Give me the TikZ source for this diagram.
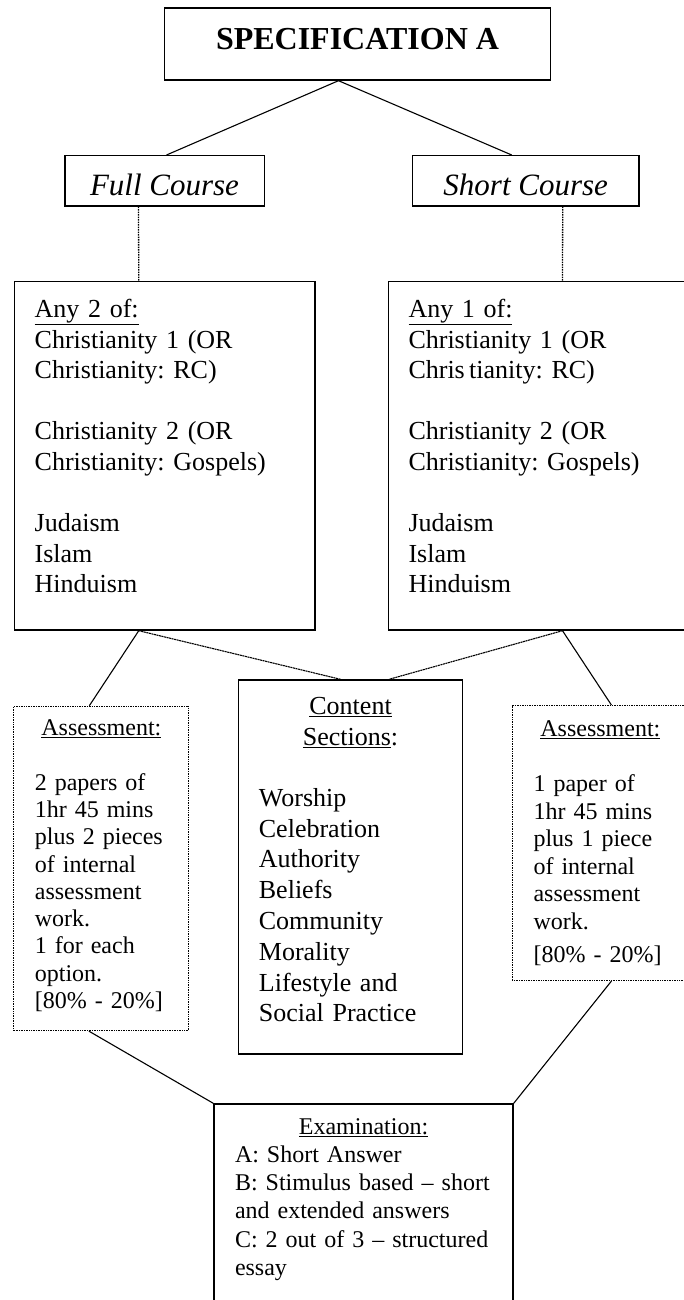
\documentclass[tikz,border=0pt]{standalone}
\usepackage{fontspec}
\setmainfont{Liberation Serif}
\frenchspacing
\newcommand\boxhead[1]{\makebox[\linewidth]{#1}}
\begin{document}
\begin{tikzpicture}[x=1pt,y=-1pt,
  box/.style={draw, line width=1.4pt, anchor=north west, inner ysep=0pt},
  dotbox/.style={draw, line width=1.1pt, dash pattern=on 1pt off 0.7pt, anchor=north west, inner ysep=0pt},
  link/.style={line width=1.1pt},
  dashlink/.style={line width=1.3pt, dash pattern=on 1.5pt off 1pt},
  fineline/.style={line width=1.1pt, dash pattern=on 2pt off 0.6pt}]
\useasboundingbox (0,0) rectangle (684,1300);
\clip (0,0) rectangle (684,1300);
\node[box, minimum width=385.6pt, text height=42pt, text depth=30pt, font=\fontsize{32}{36}\selectfont\bfseries] (spec) at (164,7.3) {SPECIFICATION A};
\node[box, minimum width=199.4pt, text height=40pt, text depth=10.3pt, font=\fontsize{31}{36}\selectfont\itshape] (fullc) at (64.1,155) {Full Course};
\node[box, minimum width=226.4pt, text height=40pt, text depth=10.3pt, font=\fontsize{31}{36}\selectfont\itshape] (shortc) at (411.8,155) {Short Course};
\node[box, inner xsep=20pt, text width=260.1pt, text height=35.7pt, text depth=312.6pt, align=left, font=\fontsize{26}{30.6}\selectfont] (fulllist) at (14,281) {\underline{Any 2 of:}\\ Christianity 1 (OR\\ Christianity: RC)\\[30.6pt] Christianity 2 (OR\\ Christianity: Gospels)\\[30.6pt] Judaism\\ Islam\\ Hinduism};
\node[box, inner xsep=20pt, text width=260pt, text height=35.7pt, text depth=312.6pt, align=left, font=\fontsize{26}{30.6}\selectfont] (shortlist) at (387.8,281) {\underline{Any 1 of:}\\ Christianity 1 (OR\\ Chris\,tianity: RC)\\[30.6pt] Christianity 2 (OR\\ Christianity: Gospels)\\[30.6pt] Judaism\\ Islam\\ Hinduism};
\node[box, inner xsep=20.5pt, text width=183.3pt, text height=34.7pt, text depth=339.3pt, align=left, font=\fontsize{26}{30.8}\selectfont] (content) at (237.7,679.3) {\boxhead{\underline{Content}}\\ \boxhead{\underline{Sections}:}\\[30pt] Worship\\ Celebration\\ Authority\\ Beliefs\\ Community\\ Morality\\ Lifestyle and\\ Social Practice};
\node[dotbox, inner xsep=21pt, text width=133pt, text height=29.3pt, text depth=295pt, align=left, font=\fontsize{24}{27.3}\selectfont] (lassess) at (13.3,705.7) {\boxhead{\underline{Assessment:}}\\[27.3pt] 2 papers of\\ 1hr 45 mins\\ plus 2 pieces\\ of internal\\ assessment\\ work.\\ 1 for each\\ option.\\{}[80\% - 20\%]};
\node[dotbox, inner xsep=21.3pt, text width=133.7pt, text height=31pt, text depth=244pt, align=left, font=\fontsize{24}{27.5}\selectfont] (rassess) at (511.7,705) {\boxhead{\underline{Assessment:}}\\[27.5pt] 1 paper of\\ 1hr 45 mins\\ plus 1 piece\\ of internal\\ assessment\\ work.\\[6pt]{}[80\% - 20\%]};
\node[box, inner xsep=21pt, text width=257pt, text height=30pt, text depth=210pt, align=left, font=\fontsize{24}{28.3}\selectfont] (exam) at (213.3,1103.3) {\boxhead{\underline{Examination:}}\\ A: Short Answer\\ B: Stimulus based \textendash{} short\\ and extended answers\\ C: 2 out of 3 \textendash{} structured\\ essay};
\draw[link] ([xshift=-19pt]spec.south) -- ([xshift=2pt]fullc.north);
\draw[link] ([xshift=-19pt]spec.south) -- ([xshift=-14pt]shortc.north);
\draw[dashlink] ([xshift=-26pt]fullc.south) -- ([xshift=-26pt]fulllist.north);
\draw[dashlink] ([xshift=37pt]shortc.south) -- ([xshift=24pt]shortlist.north);
\draw[link] ([xshift=-26pt]fulllist.south) -- ([xshift=-12pt]lassess.north);
\draw[fineline] ([xshift=-26pt]fulllist.south) -- ([xshift=-10pt]content.north);
\draw[fineline] ([xshift=24pt]shortlist.south) -- ([xshift=38.5pt]content.north);
\draw[link] ([xshift=24pt]shortlist.south) -- ([xshift=11pt]rassess.north);
\draw[link] ([xshift=-12.5pt]lassess.south) -- (exam.north west);
\draw[link] ([xshift=11pt]rassess.south) -- (exam.north east);
\end{tikzpicture}
\end{document}
